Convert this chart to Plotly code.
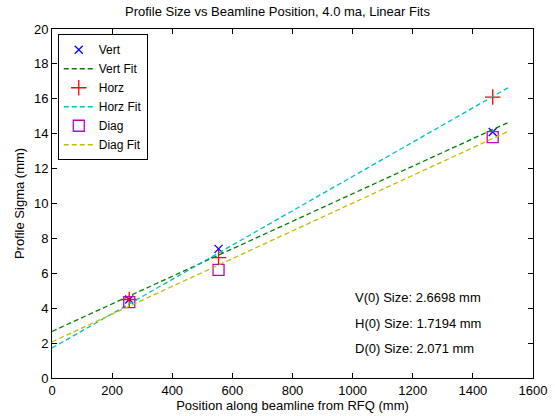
import numpy as np
import plotly.graph_objects as go

# Measured profile sigmas (mm) at beamline positions (mm from RFQ)
position = [257, 554, 1466]
vert_sigma = [4.5, 7.4, 14.1]
horz_sigma = [4.5, 6.9, 16.1]
diag_sigma = [4.35, 6.2, 13.8]

# Linear fit parameters: sigma = intercept + slope * position
fit_names = ["Vert Fit", "Horz Fit", "Diag Fit"]
fit_intercepts = [2.6698, 1.7194, 2.071]
fit_slopes = [0.00789, 0.00983, 0.00795]
fit_colors = ["rgb(0,128,0)", "rgb(0,191,191)", "rgb(191,191,0)"]
fit_x_range = [0, 1520]

x_ticks = [0, 200, 400, 600, 800, 1000, 1200, 1400, 1600]
y_ticks = [0, 2, 4, 6, 8, 10, 12, 14, 16, 18, 20]

FONT = "Liberation Sans, Arial, sans-serif"
FS = 13

fig = go.Figure()

xfit = np.linspace(fit_x_range[0], fit_x_range[1], 50)


def add_fit(i):
    fig.add_trace(go.Scatter(
        x=xfit, y=fit_intercepts[i] + fit_slopes[i] * xfit,
        mode="lines", name=fit_names[i],
        line=dict(color=fit_colors[i], width=1.3, dash="5px,3px"),
    ))


fig.add_trace(go.Scatter(
    x=position, y=vert_sigma, mode="markers", name="Vert",
    marker=dict(symbol="x-thin-open", size=8, color="blue",
                line=dict(color="blue", width=1.3)),
))
add_fit(0)
fig.add_trace(go.Scatter(
    x=position, y=horz_sigma, mode="markers", name="Horz",
    marker=dict(symbol="cross-thin-open", size=11, color="red",
                line=dict(color="red", width=1.3)),
))
add_fit(1)
fig.add_trace(go.Scatter(
    x=position, y=diag_sigma, mode="markers", name="Diag",
    marker=dict(symbol="square-open", size=11, color="rgb(191,0,191)",
                line=dict(color="rgb(191,0,191)", width=1.3)),
))
add_fit(2)

summary = [
    f"V(0) Size: {fit_intercepts[0]:.4f} mm",
    f"H(0) Size: {fit_intercepts[1]:.4f} mm",
    f"D(0) Size: {fit_intercepts[2]:.3f} mm",
]
for k, txt in enumerate(summary):
    fig.add_annotation(
        x=1002, y=4.6 - 1.45 * k, xref="x", yref="y", text=txt,
        showarrow=False, xanchor="left", yanchor="middle",
        font=dict(family=FONT, size=FS, color="black"),
    )

axis_common = dict(
    showgrid=False, zeroline=False, showline=True, linecolor="black",
    linewidth=1, mirror="ticks", ticks="inside", ticklen=5,
    tickcolor="black", tickfont=dict(family=FONT, size=FS, color="black"),
    automargin=False,
)

fig.update_layout(
    width=555, height=416,
    margin=dict(l=52, r=22, t=29, b=38),
    paper_bgcolor="white", plot_bgcolor="white",
    title=dict(text="Profile Size vs Beamline Position, 4.0 ma, Linear Fits",
               x=0.5, xanchor="center", y=0.972, yanchor="middle",
               font=dict(family=FONT, size=FS, color="black"),
               automargin=False),
    xaxis=dict(range=[0, 1600], tickvals=x_ticks,
               title=dict(text="Position along beamline from RFQ (mm)",
                          font=dict(family=FONT, size=FS, color="black"),
                          standoff=2),
               **axis_common),
    yaxis=dict(range=[0, 20], tickvals=y_ticks,
               title=dict(text="Profile Sigma (mm)",
                          font=dict(family=FONT, size=FS, color="black"),
                          standoff=6),
               **axis_common),
    legend=dict(x=0.012, y=0.985, xanchor="left", yanchor="top",
                bgcolor="white", bordercolor="black", borderwidth=1,
                font=dict(family=FONT, size=12, color="black"),
                tracegroupgap=0, itemwidth=30),
    showlegend=True,
)

fig.write_html("out.html")
